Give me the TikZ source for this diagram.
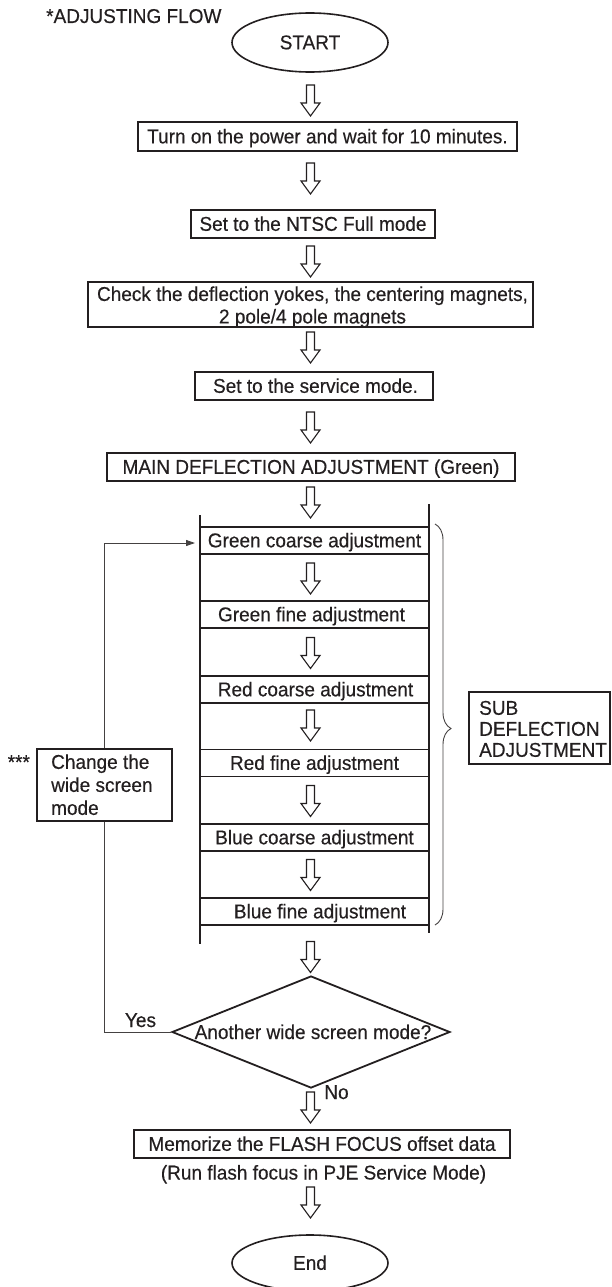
\documentclass[tikz,border=0pt]{standalone}
\usepackage{fontspec}
\setmainfont{Liberation Sans}[FakeStretch=0.95,FakeBold=0.4]
\usetikzlibrary{shapes.geometric,decorations.pathreplacing,arrows.meta,calc}
\definecolor{ink}{RGB}{35,31,32}
\tikzset{
  harrow/.pic={\draw[ink, line width=1.1pt, fill=white, line join=miter] (-4,-15.5) -- (-4,2.5) -- (-9.5,2.5) -- (0,15.5) -- (9.5,2.5) -- (4,2.5) -- (4,-15.5) -- cycle;}
}
\begin{document}
\begin{tikzpicture}[x=1pt,y=-1pt,
  every node/.style={text=ink, font=\fontsize{20}{23}\selectfont, inner sep=0pt},
  mainbox/.style={draw=ink, line width=1.8pt, rectangle, text height=13.6pt, text depth=0pt},
  subbox/.style={draw=ink, line width=1.4pt, rectangle, minimum width=229pt, minimum height=27pt, text height=13.6pt, text depth=0pt},
  term/.style={draw=ink, line width=1.6pt, ellipse, minimum width=156pt, text height=13.6pt, text depth=0pt},
  fb/.style={draw=ink!85, line width=0.9pt},
  blk/.style={draw=ink, line width=1.9pt},
  brc/.style={draw=ink!85, line width=0.9pt},
  plain/.style={anchor=base}
]
\useasboundingbox (0,0) rectangle (611,1287);

% title
\node[anchor=base west] (title) at (46,23) {*ADJUSTING FLOW};

% start
\node[term, minimum height=59pt] (start) at (310,42.5) {START};
\pic (a1) at (310.5,100.5) {harrow};
\node[mainbox, minimum width=379pt, minimum height=29pt] (b1) at (327.5,136.5) {Turn on the power and wait for 10 minutes.};
\pic (a2) at (310.5,178.5) {harrow};
\node[mainbox, minimum width=244pt, minimum height=28pt] (b2) at (313,224) {Set to the NTSC Full mode};
\pic (a3) at (310.5,261.5) {harrow};
\node[draw=ink, line width=1.8pt, rectangle, minimum width=445pt, minimum height=45pt] (b3) at (310.5,304.5) {};
\node[align=center, font=\fontsize{20}{22.5}\selectfont] (b3t) at (312.5,307) {Check the deflection yokes, the centering magnets,\\2 pole/4 pole magnets};
\pic (a4) at (310.5,347.5) {harrow};
\node[mainbox, minimum width=238pt, minimum height=28pt] (b4) at (314,386) {\hspace*{3pt}Set to the service mode.};
\pic (a5) at (310.5,427.5) {harrow};
\node[mainbox, line width=1.2pt, minimum width=408pt, minimum height=28pt] (b5) at (311,467) {MAIN DEFLECTION ADJUSTMENT (Green)};
\pic (a6) at (310.5,502.5) {harrow};

% sub deflection block
\draw[blk] (200,515) -- (200,944);
\draw[blk] (429,504) -- (429,933);
\node[subbox] (gc) at (314.5,540.5) {Green coarse adjustment};
\pic (a7) at (310.5,578.5) {harrow};
\node[subbox] (gf) at (314.5,614.5) {\hspace*{-6pt}Green fine adjustment};
\pic (a8) at (310.5,653) {harrow};
\node[subbox] (rc) at (314.5,689.5) {\hspace*{2pt}Red coarse adjustment};
\pic (a9) at (310.5,725.5) {harrow};
\node[subbox] (rf) at (314.5,763) {Red fine adjustment};
\pic (a10) at (310.5,801) {harrow};
\node[subbox] (bc) at (314.5,837.5) {Blue coarse adjustment};
\pic (a11) at (310.5,875) {harrow};
\node[subbox] (bf) at (314.5,911.5) {\hspace*{11pt}Blue fine adjustment};

% brace and label
\draw[brc, decorate, decoration={brace, amplitude=16pt, aspect=0.51}] (435,524) -- (435,925);
\node[draw=ink, line width=1.6pt, rectangle, minimum width=141pt, minimum height=72pt] (sub) at (539.5,728) {};
\node[anchor=west, align=left, font=\fontsize{20}{21}\selectfont] (subt) at (479,728.9) {SUB\\DEFLECTION\\ADJUSTMENT};

\pic (a12) at (310.5,957) {harrow};

% decision
\node[draw=ink, line width=1.8pt, diamond, minimum width=278pt, minimum height=112pt] (dec) at (311,1032) {};
\node[plain] (dect) at (313,1039) {Another wide screen mode?};
\node[plain] (yes) at (140.5,1027) {Yes};
\node[plain] (no) at (336.5,1099) {No};

% change box and loop
\node[draw=ink, line width=1.6pt, rectangle, minimum width=135pt, minimum height=72pt] (chg) at (104.5,785) {};
\node[anchor=west, align=left, font=\fontsize{20}{23}\selectfont] (chgt) at (51,784.7) {Change the\\wide screen\\mode};
\node[anchor=base west] (stars) at (7.5,769) {***};
\coordinate (fbend) at (195,543);
\draw[fb] (dec.west) -| (chg.south);
\draw[fb, -{Triangle[length=9pt,width=6pt]}] (chg.north) |- (fbend);

\pic (a13) at (310.5,1107.5) {harrow};
\node[mainbox, minimum width=376pt, minimum height=28pt] (mem) at (322,1144) {Memorize the FLASH FOCUS offset data};
\node[plain] (run) at (323.5,1179.5) {(Run flash focus in PJE Service Mode)};
\pic (a14) at (310.5,1202.5) {harrow};
\node[term, minimum height=56pt] (end) at (310,1263) {End};
\end{tikzpicture}
\end{document}
